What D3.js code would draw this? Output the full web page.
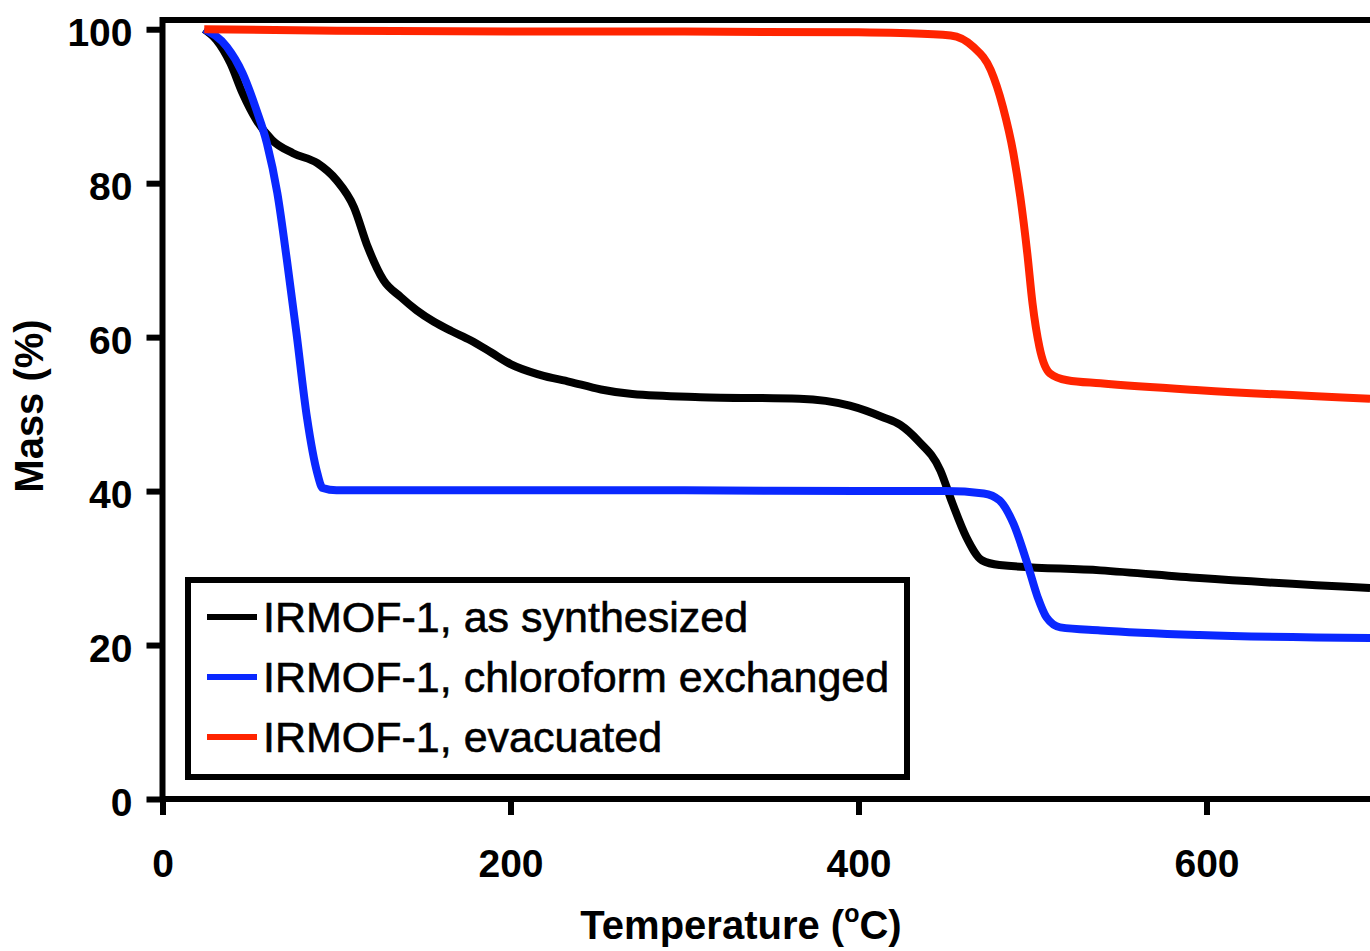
<!DOCTYPE html>
<html>
<head>
<meta charset="utf-8">
<script src="https://cdn.jsdelivr.net/npm/d3@7"></script>
<style>
  html, body { margin: 0; padding: 0; background: #fff; overflow: hidden; }
  text { font-family: 'Liberation Sans', Arial, Helvetica, sans-serif; }
</style>
</head>
<body>
<svg id="chart" width="1370" height="951"></svg>
<script>
// data
const seriesNames = ['IRMOF-1, as synthesized', 'IRMOF-1, chloroform exchanged', 'IRMOF-1, evacuated']
const seriesColors = ['#000000', '#0a28ff', '#ff2400']

const synthTemp = [24, 31, 39, 46, 54, 63, 75, 89, 100, 110, 118, 127, 137, 146, 156, 166, 177, 189, 200, 217, 234, 252, 270, 309, 366, 395, 414, 424, 434, 447, 454, 462, 471, 481, 539, 596, 694]
const synthMass = [100, 98.6, 95.6, 91.7, 88.2, 85.6, 83.9, 82.6, 80.4, 76.9, 71.7, 67.4, 65.2, 63.5, 62.0, 60.8, 59.6, 58.0, 56.5, 55.1, 54.2, 53.2, 52.6, 52.2, 52.0, 51.1, 49.6, 48.6, 46.6, 42.7, 38.4, 34, 31, 30.4, 29.7, 28.7, 27.4]

const chloroTemp = [24, 37, 46, 54, 60, 66, 71.5, 77, 83, 89, 92, 100, 200, 300, 400, 450, 472, 481, 489, 497, 503, 508, 516, 539, 596, 694]
const chloroMass = [100, 97.7, 94.3, 89.5, 85.2, 78.7, 70, 60.5, 49.6, 42.3, 40.4, 40.1, 40.1, 40.1, 40.0, 40.0, 39.7, 38.8, 35.8, 30.6, 26.2, 23.6, 22.3, 21.9, 21.3, 20.9]

const evacTemp = [24, 100, 200, 300, 400, 424, 453, 466, 476, 483, 489, 493, 497, 500, 504, 510, 520, 539, 596, 694]
const evacMass = [100, 99.8, 99.7, 99.7, 99.6, 99.5, 99.2, 97.7, 94.7, 89.9, 83.9, 78.2, 70.9, 64.4, 58.7, 55.3, 54.4, 54.0, 53.1, 52.0]

const xTicks = [0, 200, 400, 600]
const yTicks = [0, 20, 40, 60, 80, 100]

const svg = d3.select('#chart')
const axisWidth = 6
const lineWidth = 8

const xScale = d3.scaleLinear()
	.domain([0, 800])
	.range([162.5, 1554.5])

const yScale = d3.scaleLinear()
	.domain([0, 101.2])
	.range([799, 20])

const series = [
	{ name: seriesNames[0], color: seriesColors[0], points: synthTemp.map((t, i) => ({ t: t, m: synthMass[i] })) },
	{ name: seriesNames[1], color: seriesColors[1], points: chloroTemp.map((t, i) => ({ t: t, m: chloroMass[i] })) },
	{ name: seriesNames[2], color: seriesColors[2], points: evacTemp.map((t, i) => ({ t: t, m: evacMass[i] })) }
]

// plot frame (right side falls outside the picture)
svg.append('rect')
	.attr('x', xScale(0))
	.attr('y', yScale(101.2))
	.attr('width', xScale(800) - xScale(0))
	.attr('height', yScale(0) - yScale(101.2))
	.attr('fill', 'none')
	.attr('stroke', '#000')
	.attr('stroke-width', axisWidth)

const line = d3.line()
	.x(d => xScale(d.t))
	.y(d => yScale(d.m))
	.curve(d3.curveMonotoneX)

svg.selectAll('path.series')
	.data(series)
	.enter()
	.append('path')
		.attr('class', 'series')
		.attr('d', d => line(d.points))
		.attr('fill', 'none')
		.attr('stroke', d => d.color)
		.attr('stroke-width', lineWidth)
		.attr('stroke-linejoin', 'round')
		.attr('stroke-linecap', 'butt')

const xAxis = d3.axisBottom(xScale)
	.tickValues(xTicks)
	.tickSize(16)
	.tickPadding(34)
	.tickSizeOuter(0)

const yAxis = d3.axisLeft(yScale)
	.tickValues(yTicks)
	.tickSize(16)
	.tickPadding(14)
	.tickSizeOuter(0)

const gx = svg.append('g')
	.attr('transform', `translate(0, ${yScale(0)})`)
	.call(xAxis)

const gy = svg.append('g')
	.attr('transform', `translate(${xScale(0)}, 0)`)
	.call(yAxis)

svg.selectAll('path.domain').remove()
svg.selectAll('.tick line')
	.attr('stroke', '#000')
	.attr('stroke-width', axisWidth)
svg.selectAll('.tick text')
	.attr('fill', '#000')
	.style('font-family', "'Liberation Sans', Arial, sans-serif")
	.style('font-size', '39px')
	.style('font-weight', 'bold')
gy.selectAll('.tick text').attr('dy', '0.42em')

// axis titles
svg.append('text')
	.attr('transform', 'translate(43, 406) rotate(-90)')
	.attr('text-anchor', 'middle')
	.style('font-size', '40px')
	.style('font-weight', 'bold')
	.text('Mass (%)')

const xTitle = svg.append('text')
	.attr('x', 741)
	.attr('y', 939)
	.attr('text-anchor', 'middle')
	.style('font-size', '40px')
	.style('font-weight', 'bold')
xTitle.append('tspan').text('Temperature (')
xTitle.append('tspan').text('o').style('font-size', '25px').attr('dy', -17)
xTitle.append('tspan').text('C)').attr('dy', 17)

// legend
const legend = svg.append('g')
legend.append('rect')
	.attr('x', 188)
	.attr('y', 580)
	.attr('width', 719)
	.attr('height', 197)
	.attr('fill', '#fff')
	.attr('stroke', '#000')
	.attr('stroke-width', axisWidth)

const items = legend.selectAll('g.item')
	.data(series)
	.enter()
	.append('g')
		.attr('class', 'item')
		.attr('transform', (d, i) => `translate(0, ${617 + i * 60})`)
items.append('line')
	.attr('x1', 207)
	.attr('x2', 257)
	.attr('stroke', d => d.color)
	.attr('stroke-width', 6)
items.append('text')
	.attr('x', 263)
	.attr('y', 15)
	.style('font-size', '43px')
	.attr('stroke', '#000')
	.attr('stroke-width', 0.6)
	.text(d => d.name)
</script>
</body>
</html>
